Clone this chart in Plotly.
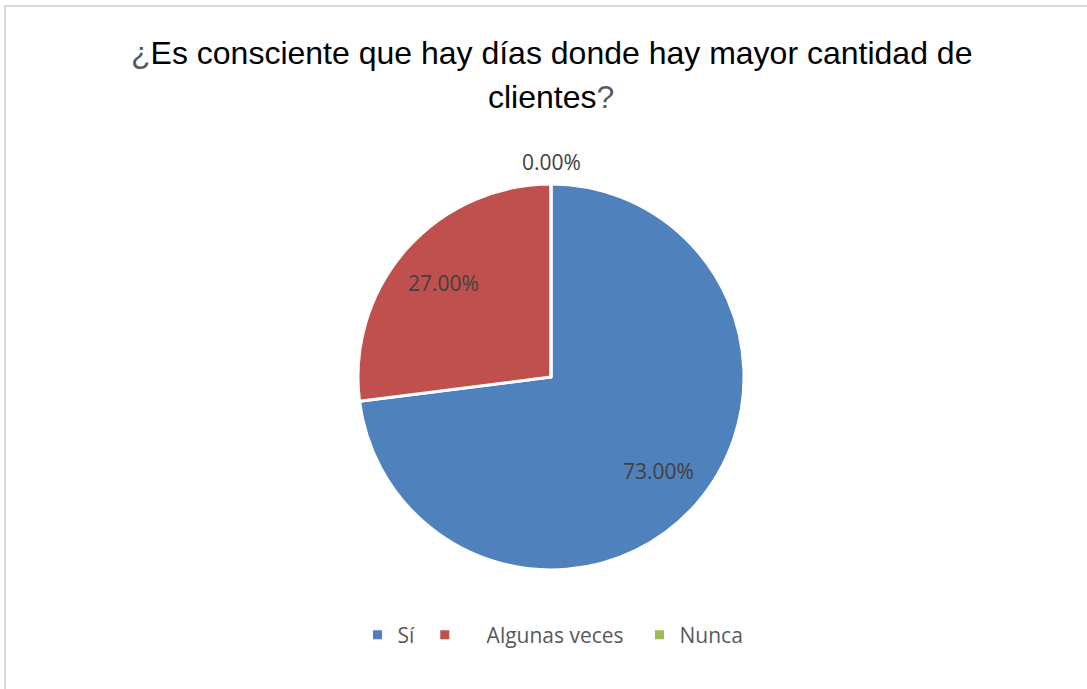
import math
import plotly.graph_objects as go

# Survey answers and their shares (percent)
categories = ["Sí\u00a0", "\u00a0\u00a0\u00a0\u00a0Algunas veces\u00a0\u00a0", "Nunca"]
shares = [73.0, 27.0, 0.0]
colors = ["#4F81BD", "#C0504D", "#9BBB59"]

title_lines = [
    "<span style='color:#595959'>¿</span>Es consciente que hay días donde hay mayor cantidad de",
    "clientes<span style='color:#595959'>?</span>",
]

W, H = 1087, 689

# Pie placement (pixels) -> paper domain
cx, cy, R = 551, 377, 193
dom_x = [(cx - R) / W, (cx + R) / W]
dom_y = [1 - (cy + R) / H, 1 - (cy - R) / H]

fig = go.Figure(
    go.Pie(
        labels=categories,
        values=shares,
        sort=False,
        direction="clockwise",
        rotation=0,
        marker=dict(colors=colors, line=dict(color="white", width=3)),
        textinfo="none",
        hoverinfo="label+percent",
        domain=dict(x=dom_x, y=dom_y),
        showlegend=True,
    )
)

# Data labels: placed along each slice's mid-angle (clockwise from 12 o'clock)
annotations = []
total = sum(shares)
start = 0.0
for v in shares:
    frac = v / total
    mid = (start + frac / 2) * 2 * math.pi
    start += frac
    dist = 0.74 * R if v > 0 else R + 22
    px = cx + dist * math.sin(mid)
    py = cy - dist * math.cos(mid)
    annotations.append(
        dict(
            text=f"{v:.2f}%",
            x=px / W,
            y=1 - py / H,
            xref="paper",
            yref="paper",
            xanchor="center",
            yanchor="middle",
            showarrow=False,
            font=dict(family="Open Sans", size=21, color="#404040"),
        )
    )

for i, line in enumerate(title_lines):
    annotations.append(
        dict(
            text=line,
            x=551 / W,
            y=1 - (53 + 44 * i) / H,
            xref="paper",
            yref="paper",
            xanchor="center",
            yanchor="middle",
            showarrow=False,
            font=dict(family="Liberation Sans, Arial", size=32, color="#000000"),
        )
    )

fig.update_layout(
    width=W,
    height=H,
    margin=dict(l=0, r=0, t=0, b=0),
    paper_bgcolor="white",
    plot_bgcolor="white",
    annotations=annotations,
    legend=dict(
        orientation="h",
        x=553 / W,
        xanchor="center",
        y=1 - 635 / H,
        yanchor="middle",
        font=dict(family="Open Sans", size=21, color="#595959"),
        itemclick=False,
    ),
    shapes=[
        dict(
            type="rect",
            xref="paper",
            yref="paper",
            x0=5 / W,
            x1=1.05,
            y0=-0.05,
            y1=1 - 6 / H,
            line=dict(color="#D9D9D9", width=2),
            fillcolor="rgba(0,0,0,0)",
            layer="below",
        )
    ],
)

fig.write_html("out.html")
